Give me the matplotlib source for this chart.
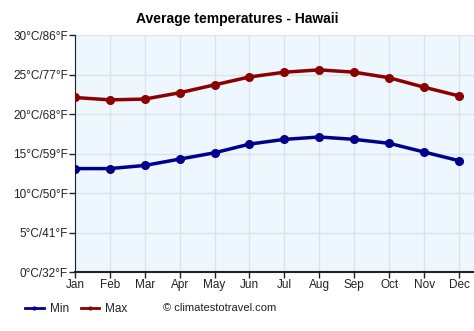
import numpy as np
import matplotlib.pyplot as plt
from matplotlib.lines import Line2D

months = ['Jan', 'Feb', 'Mar', 'Apr', 'May', 'Jun',
          'Jul', 'Aug', 'Sep', 'Oct', 'Nov', 'Dec']
t_min = [13.1, 13.1, 13.5, 14.3, 15.1, 16.2, 16.8, 17.1, 16.8, 16.3, 15.2, 14.1]
t_max = [22.1, 21.8, 21.9, 22.7, 23.7, 24.7, 25.3, 25.6, 25.3, 24.6, 23.4, 22.3]
yticks = [0, 5, 10, 15, 20, 25, 30]
ylabels = ['0°C/32°F', '5°C/41°F', '10°C/50°F', '15°C/59°F',
           '20°C/68°F', '25°C/77°F', '30°C/86°F']

plt.rcParams['font.family'] = ['Liberation Sans', 'DejaVu Sans']

fig = plt.figure(figsize=(4.74, 3.31), dpi=100)
ax = fig.add_axes([0.158, 0.178, 0.842, 0.716])
ax.set_facecolor('#eef6fe')

x = np.arange(len(months))
ax.plot(x, t_min, color='#00008b', lw=2.5, marker='o', ms=5.5, zorder=3)
ax.plot(x, t_max, color='#8b0000', lw=2.5, marker='o', ms=5.5, zorder=3)

ax.set_xlim(0, 11.43)
ax.set_ylim(0, 30)
ax.set_xticks(x)
ax.set_xticklabels(months, fontsize=8.5, color='#222222')
ax.set_yticks(yticks)
ax.set_yticklabels(ylabels, fontsize=8.5, color='#222222')
ax.tick_params(axis='both', length=4, width=1, color='#222222', pad=1)
ax.grid(True, color='#dce2ea', lw=1)
ax.set_axisbelow(True)
for s in ['top', 'right']:
    ax.spines[s].set_visible(False)
ax.spines['left'].set_color('#222222')
ax.spines['bottom'].set_color('#222222')
ax.spines['bottom'].set_linewidth(1.5)

fig.text(0.5, 0.943, 'Average temperatures - Hawaii', ha='center', va='center',
         fontsize=10, fontweight='bold')

# legend row along the bottom
handles = [Line2D([], [], color='#00008b', lw=2, marker='o', ms=2),
           Line2D([], [], color='#8b0000', lw=2, marker='o', ms=2)]
fig.legend(handles, ['Min', 'Max'], loc='center left', bbox_to_anchor=(0.03, 0.066),
           ncol=2, frameon=False, fontsize=8.5, handlelength=1.6,
           handletextpad=0.5, columnspacing=1.0, labelcolor='#222222')
fig.text(0.343, 0.068, '© climatestotravel.com', ha='left', va='center',
         fontsize=8, color='#222222')

fig.savefig('out.png', dpi=100)
